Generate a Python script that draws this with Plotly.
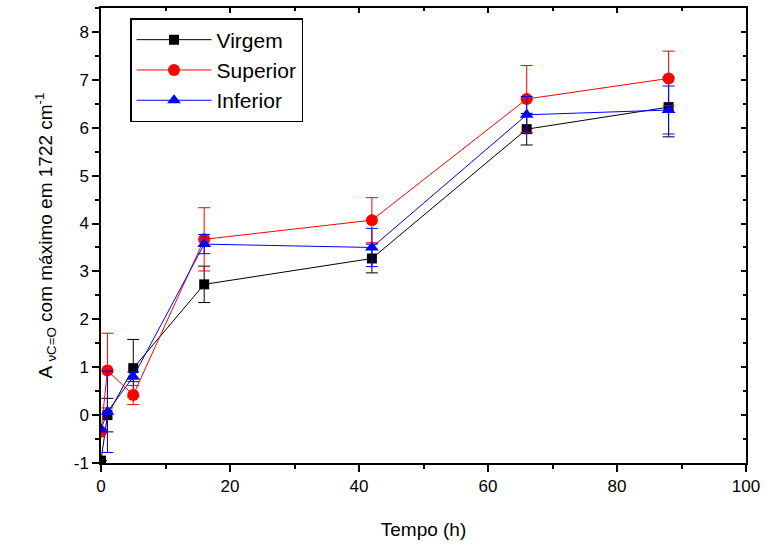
import plotly.graph_objects as go

tempo = [0, 1, 5, 16, 42, 66, 88]

virgem = [-0.95, 0.0, 0.98, 2.73, 3.27, 5.97, 6.43]
virgem_err = [0.0, 0.35, 0.6, 0.38, 0.3, 0.33, 0.62]

superior = [-0.35, 0.93, 0.42, 3.67, 4.07, 6.6, 7.03]
superior_err = [0.0, 0.78, 0.2, 0.66, 0.47, 0.7, 0.57]

inferior = [-0.3, 0.07, 0.8, 3.57, 3.5, 6.27, 6.37]
inferior_err = [0.0, 0.85, 0.1, 0.2, 0.4, 0.38, 0.5]

y_ticks = list(range(-1, 9))
y_ticklabels = [str(v) for v in y_ticks]
x_ticks = [0, 20, 40, 60, 80, 100]

FONT = "Liberation Sans, Arial, sans-serif"

fig = go.Figure()

def add(name, y, err, color, symbol, size):
    fig.add_trace(go.Scatter(
        x=tempo, y=y, name=name, mode="lines+markers",
        line=dict(color=color, width=1),
        marker=dict(symbol=symbol, size=size, color=color),
        error_y=dict(type="data", array=err, visible=True, color=color,
                     thickness=1, width=6),
    ))

add("Virgem", virgem, virgem_err, "black", "square", 10)
add("Superior", superior, superior_err, "red", "circle", 12)
add("Inferior", inferior, inferior_err, "blue", "triangle-up", 12)

# invisible trace to hold the mirror axes (inside ticks on top/right)
fig.add_trace(go.Scatter(x=[None], y=[None], xaxis="x2", yaxis="y2",
                         showlegend=False, hoverinfo="skip"))

fig.update_layout(
    width=768, height=545,
    margin=dict(l=101, r=16, t=8, b=81),
    paper_bgcolor="white", plot_bgcolor="white",
    font=dict(family=FONT, size=17, color="black"),
    showlegend=True,
    legend=dict(x=0.045, y=0.978, xanchor="left", yanchor="top",
                bordercolor="black", borderwidth=1.5, bgcolor="white",
                font=dict(family=FONT, size=21), itemwidth=75,
                tracegroupgap=0),
    xaxis=dict(range=[0, 100], tickmode="array", tickvals=x_ticks,
               ticks="outside", ticklen=7, tickwidth=1.5, tickcolor="black",
               showline=True, linecolor="black", linewidth=1.5, showgrid=False,
               zeroline=False,
               minor=dict(tickvals=[10, 30, 50, 70, 90], ticks="outside",
                          ticklen=4, tickwidth=1.5, tickcolor="black"),
               title=dict(text="Tempo (h)", font=dict(size=19), standoff=28),
               tickfont=dict(size=17)),
    yaxis=dict(range=[-1, 8.5], tickmode="array", tickvals=y_ticks,
               ticktext=y_ticklabels,
               ticks="outside", ticklen=7, tickwidth=1.5, tickcolor="black",
               showline=True, linecolor="black", linewidth=1.5, showgrid=False,
               zeroline=False,
               minor=dict(tickvals=[-0.5 + i for i in range(10)], ticks="outside",
                          ticklen=4, tickwidth=1.5, tickcolor="black"),
               title=dict(text="A <sub>νC=O</sub> com máximo em 1722 cm<sup>-1</sup>",
                          font=dict(size=19), standoff=16),
               tickfont=dict(size=17)),
    xaxis2=dict(overlaying="x", side="top", range=[0, 100],
                tickmode="array", tickvals=x_ticks,
                ticks="inside", ticklen=5, tickwidth=1.5, tickcolor="black",
                showticklabels=False, showline=True, linecolor="black",
                linewidth=1.5, showgrid=False, zeroline=False,
                minor=dict(tickvals=[10, 30, 50, 70, 90], ticks="inside",
                           ticklen=3, tickwidth=1.5, tickcolor="black")),
    yaxis2=dict(overlaying="y", side="right", range=[-1, 8.5],
                tickmode="array", tickvals=y_ticks,
                ticks="inside", ticklen=5, tickwidth=1.5, tickcolor="black",
                showticklabels=False, showline=True, linecolor="black",
                linewidth=1.5, showgrid=False, zeroline=False,
                minor=dict(tickvals=[-0.5 + i for i in range(10)], ticks="inside",
                           ticklen=3, tickwidth=1.5, tickcolor="black")),
)

fig.write_html("out.html")
